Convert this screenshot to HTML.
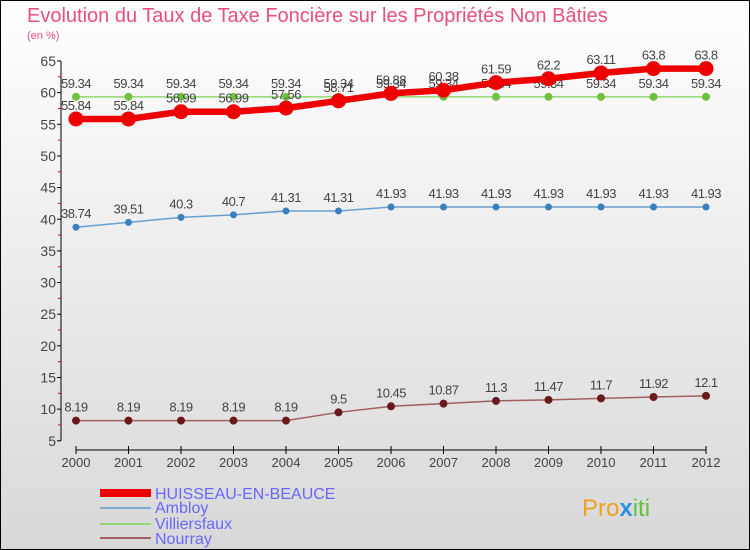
<!DOCTYPE html>
<html><head><meta charset="utf-8"><style>
body{margin:0}
#c{width:750px;height:550px;position:relative;box-sizing:border-box;border:1px solid #000;background:linear-gradient(#fff,#d8d8d8);font-family:"Liberation Sans","DejaVu Sans",sans-serif;overflow:hidden}
</style></head><body>
<div id="c">
<svg width="750" height="550" style="position:absolute;left:-1px;top:-1px">
<text x="27" y="22" font-size="20" fill="#e8507a">Evolution du Taux de Taxe Foncière sur les Propriétés Non Bâties</text>
<text x="27" y="39" font-size="11" fill="#e8507a">(en %)</text>
<g id="axes"></g><g id="series"></g>
<g>
<rect x="100" y="489" width="51" height="8" fill="#e00"/>
<text x="155" y="499" font-size="16" fill="#6868ff">HUISSEAU-EN-BEAUCE</text>
<rect x="100" y="507" width="51" height="2" fill="#7aaed0"/>
<text x="155" y="513" font-size="16" fill="#6868ff">Ambloy</text>
<rect x="100" y="523" width="51" height="2" fill="#90d870"/>
<text x="155" y="529" font-size="16" fill="#6868ff">Villiersfaux</text>
<rect x="100" y="537" width="51" height="2" fill="#a06060"/>
<text x="155" y="544" font-size="16" fill="#6868ff">Nourray</text>
</g>
<text x="582" y="516" font-size="24" fill="#f0a020">Pro<tspan fill="#3090e0" font-weight="bold">x</tspan><tspan fill="#60c040">iti</tspan></text>
</svg>
</div>
<script>
const years=[2000,2001,2002,2003,2004,2005,2006,2007,2008,2009,2010,2011,2012];
const huisseau=[55.84,55.84,56.99,56.99,57.56,58.71,59.88,60.38,61.59,62.2,63.11,63.8,63.8];
const ambloy=[38.74,39.51,40.3,40.7,41.31,41.31,41.93,41.93,41.93,41.93,41.93,41.93,41.93];
const villiersfaux=[59.34,59.34,59.34,59.34,59.34,59.34,59.34,59.34,59.34,59.34,59.34,59.34,59.34];
const nourray=[8.19,8.19,8.19,8.19,8.19,9.5,10.45,10.87,11.3,11.47,11.7,11.92,12.1];
const yTicks=[5,10,15,20,25,30,35,40,45,50,55,60,65];
const NS="http://www.w3.org/2000/svg";
const X=i=>76+i*52.5, Y=v=>61+(65-v)*6.33;
function mk(t,a,p){const e=document.createElementNS(NS,t);for(const k in a)e.setAttribute(k,a[k]);p.appendChild(e);return e;}
const ax=document.getElementById('axes'),sg=document.getElementById('series');
const yl=mk('line',{x1:61,y1:61,x2:61,y2:Y(5),stroke:'#000'},ax);


yTicks.forEach(v=>{
 mk('line',{x1:57,x2:61,y1:Y(v),y2:Y(v),stroke:'#000'},ax);
 if(v<65)mk('line',{x1:58,x2:61,y1:Y(v+2.5),y2:Y(v+2.5),stroke:'#e00'},ax);
 const t=mk('text',{x:56,y:Y(v)+5,'font-size':14,'text-anchor':'end',fill:'#444'},ax);t.textContent=v;
 
 
});
const xl=mk('line',{x1:X(0),x2:X(12),y1:450,y2:450,stroke:'#000'},ax);


years.forEach((y,i)=>{
 mk('line',{x1:X(i),x2:X(i),y1:446,y2:454,stroke:'#000'},ax);
 const t=mk('text',{x:X(i),y:467,'font-size':13,'text-anchor':'middle',fill:'#444'},ax);t.textContent=y;
 
 
});
function series(d,name,col,dot,w,r){
 const g=mk('g',{},sg);
 
 
 mk('polyline',{points:d.map((v,i)=>X(i)+','+Y(v)).join(' '),fill:'none',stroke:col,'stroke-width':w,'stroke-linejoin':'round'},g);
 d.forEach((v,i)=>{
  const c=mk('circle',{cx:X(i),cy:Y(v),r:r,fill:dot},g);
  
  
  const t=mk('text',{x:X(i),y:Y(v)-9,'font-size':13,'text-anchor':'middle',fill:'#444','letter-spacing':'-0.5'},g);t.textContent=v;
 });
}
series(nourray,'nourray','#a06060','#6a1a1a',1.5,4);
series(ambloy,'ambloy','#6aa0d0','#3a80c0',1.5,3.5);
series(villiersfaux,'villiersfaux','#90d870','#70c040',1.5,4);
series(huisseau,'huisseau','#e00','#e00',6.5,7.5);
</script>
</body></html>
